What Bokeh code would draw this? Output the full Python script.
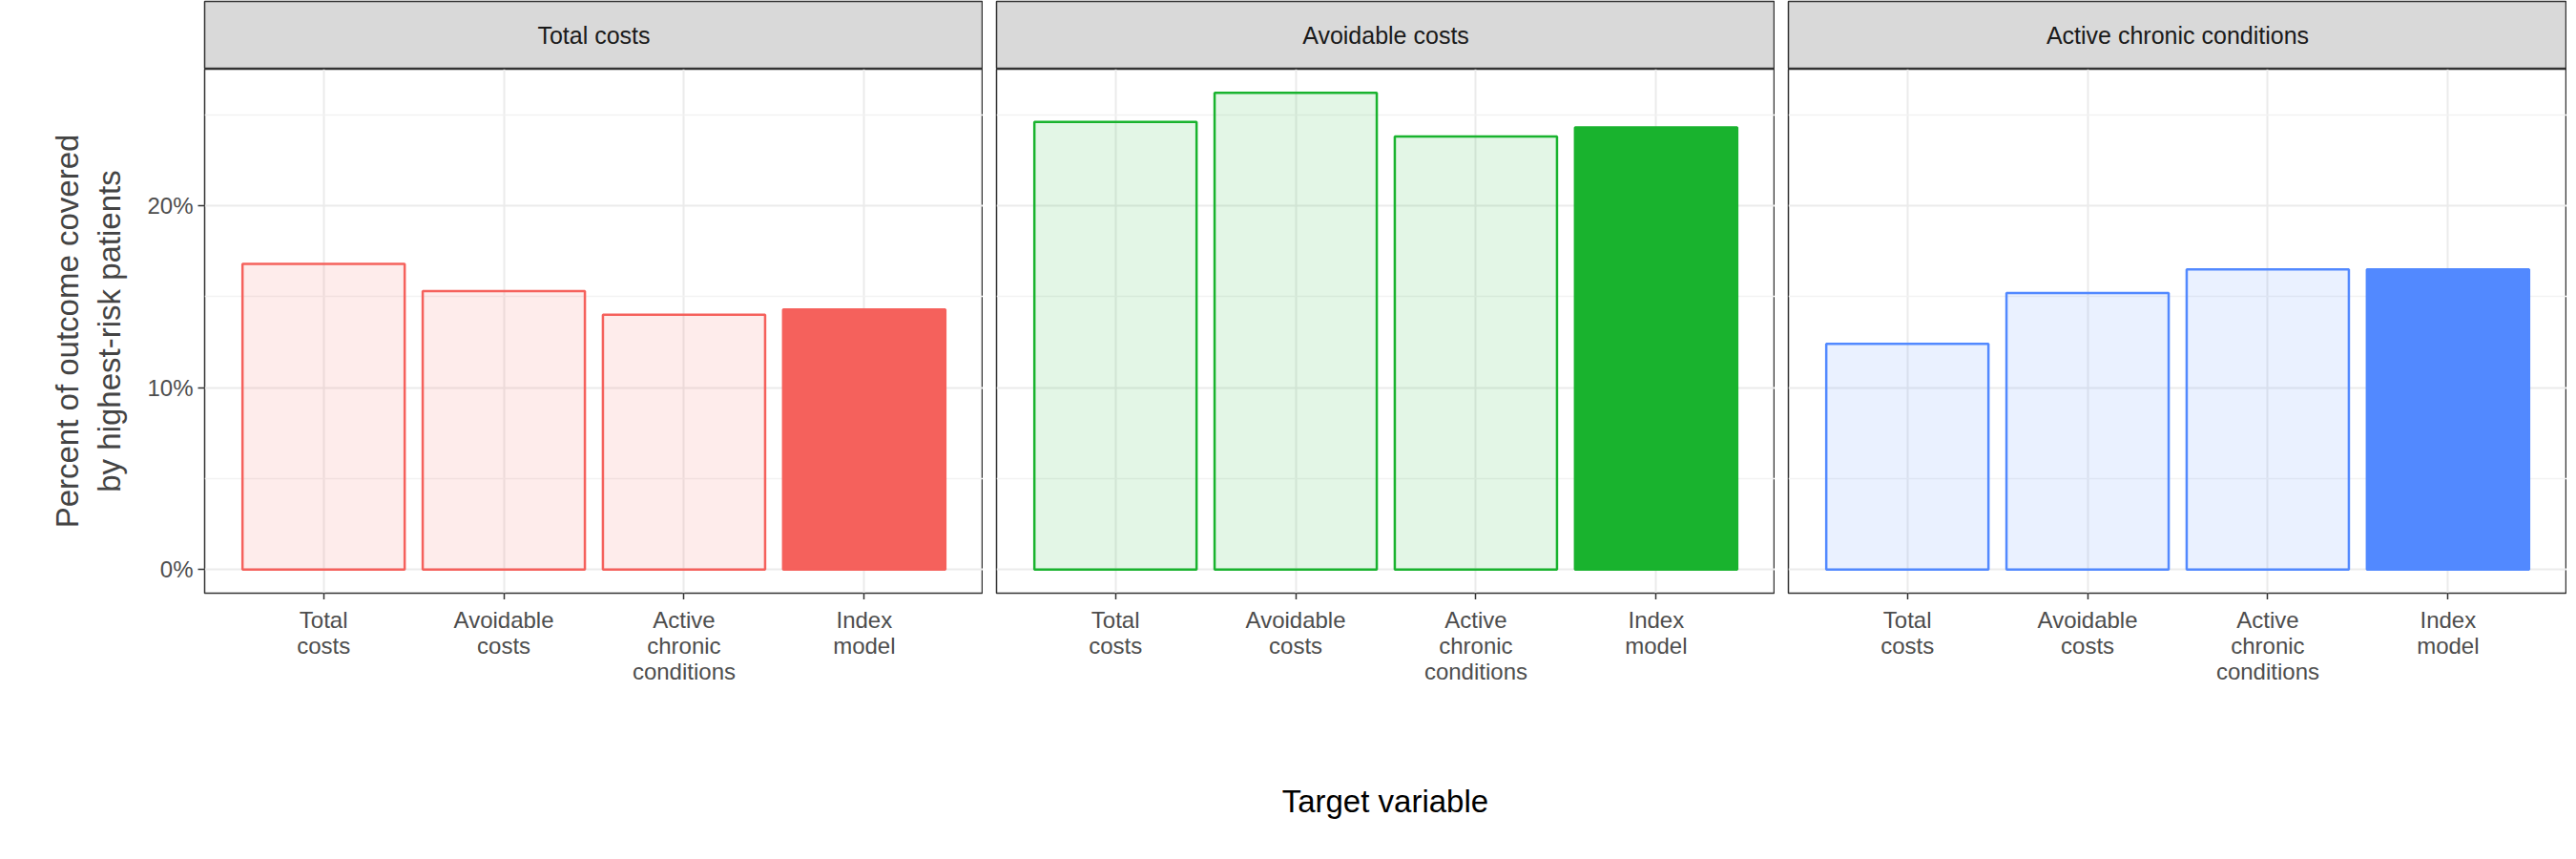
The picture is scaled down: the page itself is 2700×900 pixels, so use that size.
from bokeh.plotting import figure
from bokeh.layouts import row, column
from bokeh.models import FactorRange, Range1d, FixedTicker
from bokeh.core.properties import value
from bokeh.embed import file_html
from bokeh.resources import INLINE

targets = ["Total costs", "Avoidable costs", "Active chronic conditions", "Index model"]
target_labels = ["Total\ncosts", "Avoidable\ncosts", "Active\nchronic\nconditions", "Index\nmodel"]
panels = ["Total costs", "Avoidable costs", "Active chronic conditions"]
colors = ["#F5615C", "#19B32E", "#5289FF"]
values = [
    [16.8, 15.3, 14.0, 14.3],
    [24.6, 26.2, 23.8, 24.3],
    [12.4, 15.2, 16.5, 16.5],
]

FONT = "Liberation Sans"
FRAME_W = 816
cols = []
for i, (panel, color, vals) in enumerate(zip(panels, colors, values)):
    first = i == 0
    left = 214 if first else 14
    xr = FactorRange(*targets, range_padding=0.08)

    # strip header
    s = figure(x_range=Range1d(0, 1), y_range=Range1d(0, 1), width=FRAME_W + left, height=72,
               output_backend="svg", toolbar_location=None,
               min_border_left=left, min_border_right=0, min_border_top=1, min_border_bottom=0)
    s.axis.visible = False
    s.grid.visible = False
    s.background_fill_color = "#d9d9d9"
    s.outline_line_color = "#333333"
    s.outline_line_width = 1.5
    s.text(x=[0.5], y=[0.5], text=[panel], text_align="center", text_baseline="middle",
           text_font=value(FONT), text_font_size="25px", text_color="#1a1a1a")

    # main panel
    p = figure(x_range=xr, y_range=Range1d(-1.3, 27.5),
               width=FRAME_W + left, height=556,
               output_backend="svg", toolbar_location=None,
               min_border_left=left, min_border_right=0,
               min_border_top=0, min_border_bottom=0)
    p.vbar(x=targets, top=vals, width=0.9,
           fill_color=color, fill_alpha=[0.12, 0.12, 0.12, 1.0], line_color=color, line_width=2.5)
    p.outline_line_color = "#333333"
    p.outline_line_width = 1.5
    p.xgrid.grid_line_color = "#ebebeb"
    p.xgrid.grid_line_width = 2
    p.ygrid.grid_line_color = "#ebebeb"
    p.ygrid.grid_line_width = 2
    p.ygrid.minor_grid_line_color = "#f2f2f2"
    p.ygrid.minor_grid_line_width = 1.5
    p.yaxis.ticker = FixedTicker(ticks=[0, 10, 20], minor_ticks=[5, 15, 25])
    p.yaxis.major_label_overrides = {0: "0%", 10: "10%", 20: "20%"}
    p.axis.axis_line_color = None
    p.axis.minor_tick_line_color = None
    p.axis.major_tick_line_color = "#333333"
    p.axis.major_tick_line_width = 1.5
    p.axis.major_tick_in = 0
    p.axis.major_tick_out = 7
    p.axis.major_label_text_font = FONT
    p.axis.major_label_text_font_size = "24px"
    p.axis.major_label_text_color = "#4d4d4d"
    p.xaxis.major_label_text_font_size = "1px"
    p.xaxis.major_label_text_color = None
    p.xaxis.major_label_standoff = 0
    if first:
        p.yaxis.axis_label = "Percent of outcome covered\nby highest-risk patients"
        p.yaxis.axis_label_text_font = FONT
        p.yaxis.axis_label_text_font_size = "33px"
        p.yaxis.axis_label_text_font_style = "normal"
        p.yaxis.axis_label_standoff = 18
    else:
        p.yaxis.visible = False

    # x tick labels and axis title
    b = figure(x_range=xr, y_range=Range1d(0, 1), width=FRAME_W + left, height=240,
               output_backend="svg", toolbar_location=None,
               min_border_left=left, min_border_right=0, min_border_top=0, min_border_bottom=0)
    b.axis.visible = False
    b.grid.visible = False
    b.outline_line_color = None
    b.text(x=targets, y=[0.97] * 4, text=target_labels, text_align="center", text_baseline="top",
           text_font=value(FONT), text_font_size="24px", text_color="#4d4d4d", text_line_height=1.0)
    if i == 1:
        b.text(x=[targets[1]], y=[0.12], x_offset=[FRAME_W / 8 * 0.92], text=["Target variable"],
               text_align="center", text_baseline="middle",
               text_font=value(FONT), text_font_size="33px", text_color="#000000")
    cols.append(column(s, p, b, spacing=0))

layout = row(*cols, spacing=0)
open("out.html", "w").write(file_html(layout, INLINE))
